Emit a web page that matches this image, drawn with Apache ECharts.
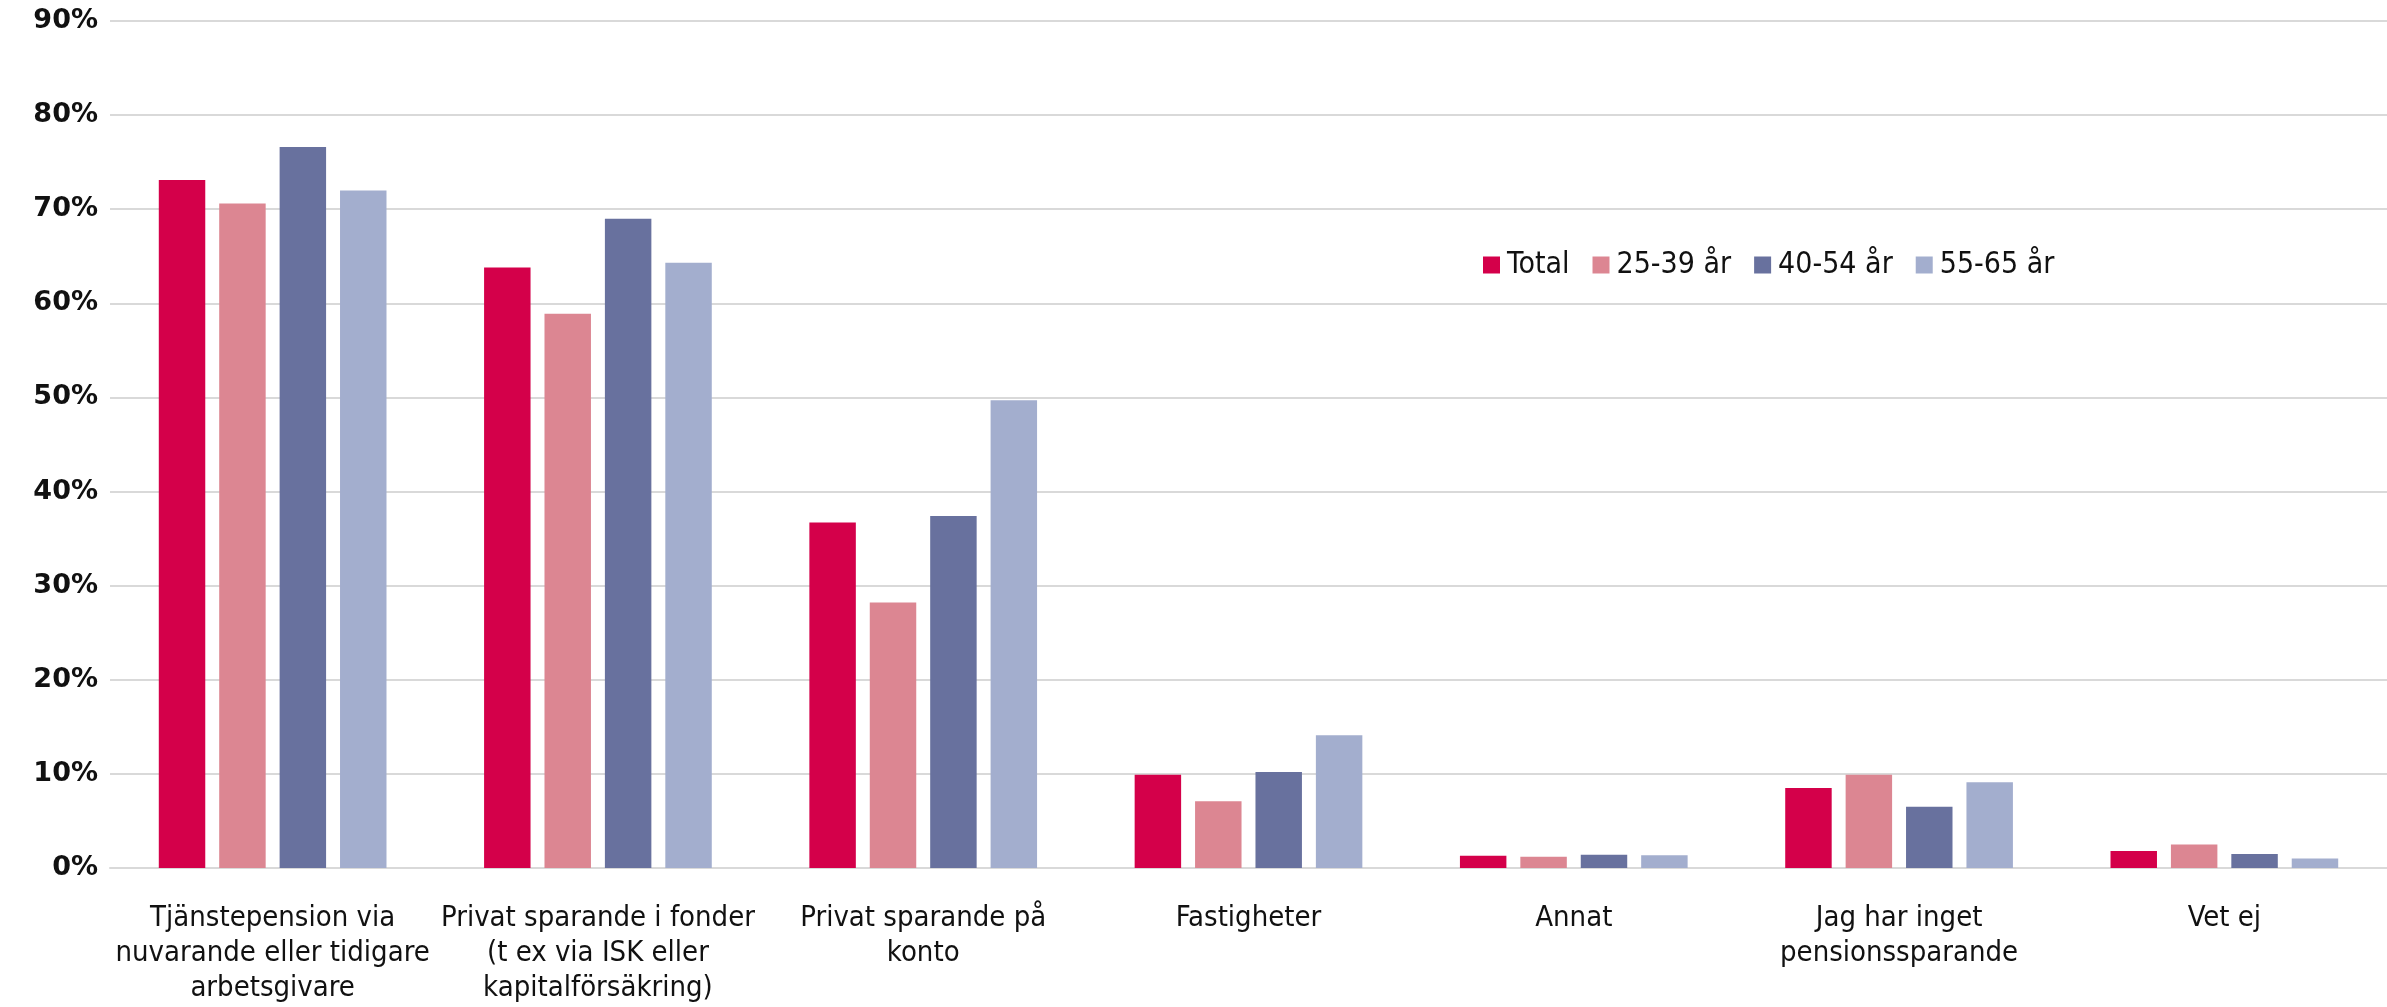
<!DOCTYPE html>
<html>
<head>
    <meta charset="utf-8">
    <title>Pensionssparande</title>
    <script src="https://cdn.jsdelivr.net/npm/echarts@6/dist/echarts.min.js"></script>
    <style>
        html, body { margin: 0; padding: 0; height: 100%; overflow: hidden; background: #fff; }
        #main { width: 2387px; height: 1007px; }
    </style>
</head>
<body>
    <div id="main"></div>
    <script>
        const categories = [
            'Tjänstepension via\nnuvarande eller tidigare\narbetsgivare',
            'Privat sparande i fonder\n(t ex via ISK eller\nkapitalförsäkring)',
            'Privat sparande på\nkonto',
            'Fastigheter',
            'Annat',
            'Jag har inget\npensionssparande',
            'Vet ej'
        ];
        const seriesNames = ['Total', '25-39 år', '40-54 år', '55-65 år'];
        const total   = [73.1, 63.8, 36.7, 9.9, 1.3, 8.5, 1.8];
        const age2539 = [70.6, 58.9, 28.2, 7.1, 1.2, 9.9, 2.5];
        const age4054 = [76.6, 69.0, 37.4, 10.2, 1.4, 6.5, 1.5];
        const age5565 = [72.0, 64.3, 49.7, 14.1, 1.35, 9.1, 1.0];
        const colors = ['#d4004a', '#dc8692', '#68719e', '#a3aece'];

        const chart = echarts.init(document.getElementById('main'));
        const values = [total, age2539, age4054, age5565];
        const narrow = 'Liberation Sans Narrow, DejaVu Sans Condensed, sans-serif';

        chart.setOption({
            animation: false,
            color: colors,
            grid: { left: 110, right: 0, top: 21, bottom: 139 },
            legend: {
                left: 1478,
                top: 245,
                itemWidth: 17,
                itemHeight: 17,
                itemGap: 23,
                icon: 'rect',
                textStyle: {
                    fontFamily: narrow,
                    fontSize: 30,
                    color: '#111',
                    padding: [0, 0, 0, 2]
                },
                data: seriesNames
            },
            xAxis: {
                type: 'category',
                data: categories,
                axisTick: { show: false },
                axisLine: { lineStyle: { color: '#d9d9d9', width: 2 } },
                axisLabel: {
                    interval: 0,
                    margin: 33,
                    color: '#111',
                    fontFamily: narrow,
                    fontSize: 29,
                    lineHeight: 35
                }
            },
            yAxis: {
                type: 'value',
                min: 0,
                max: 90,
                interval: 10,
                axisLine: { show: false },
                axisTick: { show: false },
                splitLine: { lineStyle: { color: '#d9d9d9', width: 2 } },
                axisLabel: {
                    formatter: '{value}%',
                    margin: 12,
                    color: '#111',
                    fontFamily: 'DejaVu Sans, sans-serif',
                    fontWeight: 'bold',
                    fontSize: 27
                }
            },
            series: seriesNames.map((name, i) => ({
                name: name,
                type: 'bar',
                data: values[i],
                barGap: '30%',
                barCategoryGap: '30%'
            }))
        });
    </script>
</body>
</html>
